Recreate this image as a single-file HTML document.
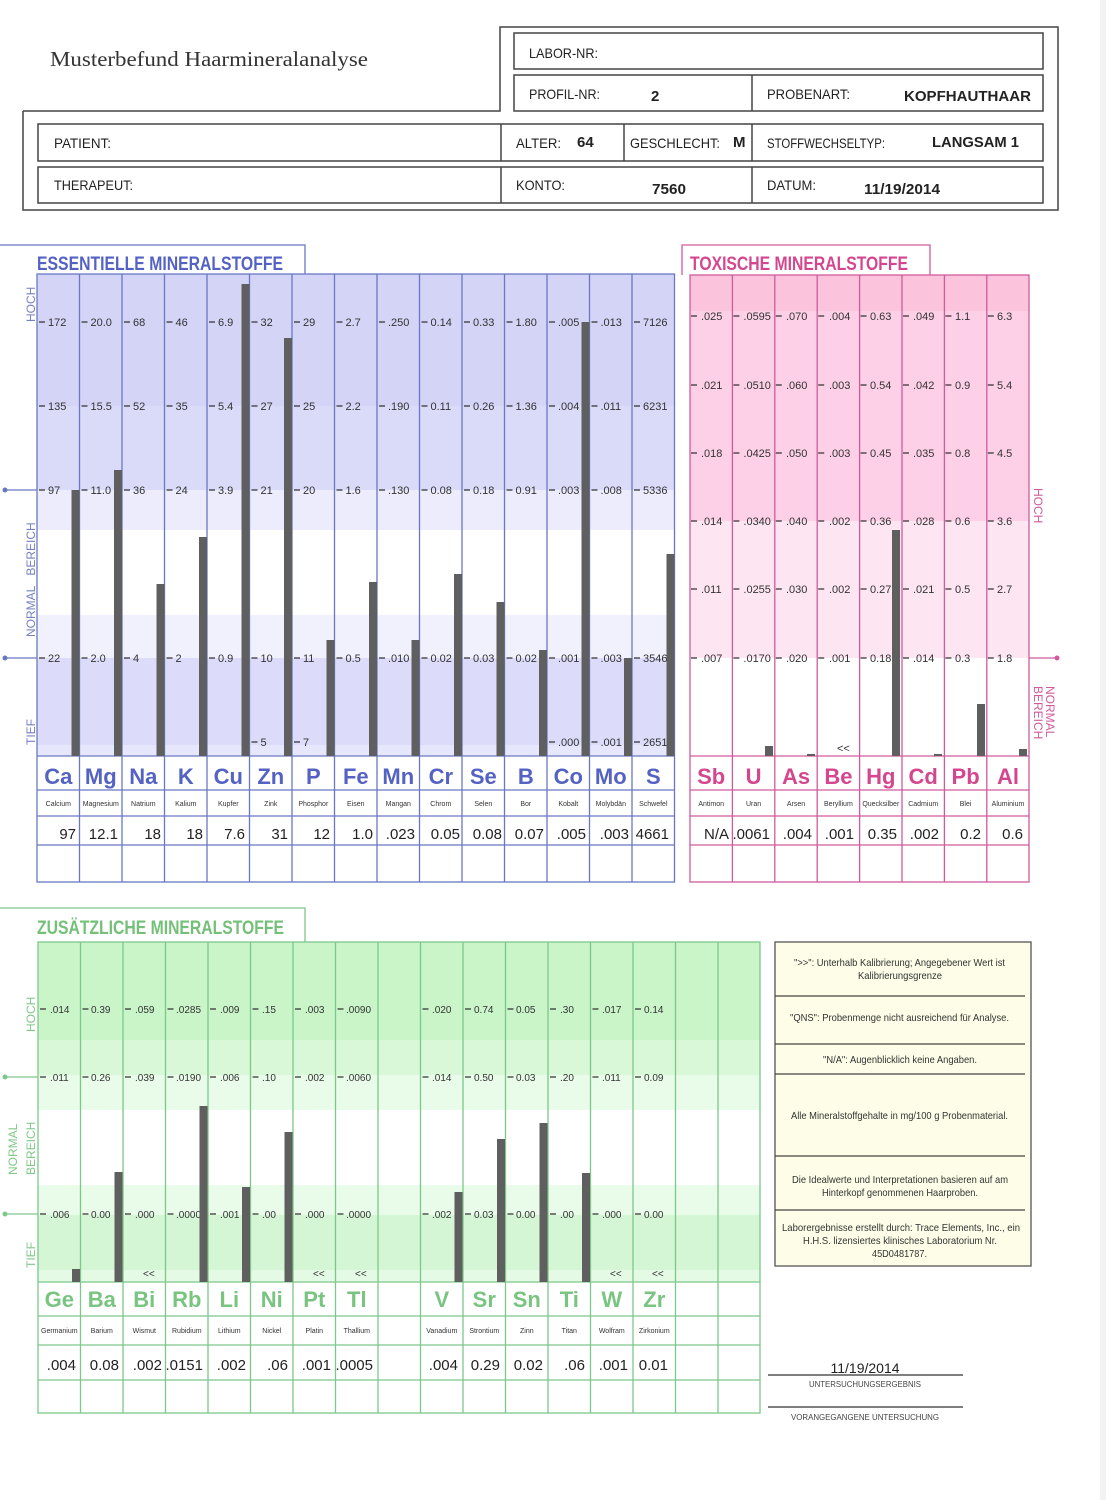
<!DOCTYPE html>
<html><head><meta charset="utf-8"><style>
html,body{margin:0;padding:0;background:#fff;}
svg{display:block;}
.n{font-family:"Liberation Sans",sans-serif;}
.s{font-family:"Liberation Sans",sans-serif;}
</style></head><body>
<svg width="1106" height="1500" viewBox="0 0 1106 1500" xmlns="http://www.w3.org/2000/svg">
<rect width="1106" height="1500" fill="#fff"/>
<rect x="1100" y="0" width="6" height="1500" fill="#f2f2f2"/>

<!-- HEADER -->
<g fill="none" stroke="#444" stroke-width="1.5">
<polyline points="23,111 500,111 500,27 1058,27 1058,210 23,210 23,111"/>
<rect x="514" y="33" width="529" height="36"/>
<rect x="514" y="75" width="529" height="36"/>
<line x1="752" y1="75" x2="752" y2="111"/>
<rect x="38" y="124" width="1005" height="37"/>
<line x1="501" y1="124" x2="501" y2="161"/><line x1="624" y1="124" x2="624" y2="161"/><line x1="752" y1="124" x2="752" y2="161"/>
<rect x="38" y="167" width="1005" height="36"/>
<line x1="501" y1="167" x2="501" y2="203"/><line x1="752" y1="167" x2="752" y2="203"/>
</g>
<text x="50" y="66" font-family="Liberation Serif,serif" font-size="21" fill="#333" textLength="318" lengthAdjust="spacingAndGlyphs">Musterbefund Haarmineralanalyse</text>
<g class="n" font-size="14" fill="#222" lengthAdjust="spacingAndGlyphs">
<text x="529" y="58" textLength="69" lengthAdjust="spacingAndGlyphs">LABOR-NR:</text>
<text x="529" y="99" textLength="71" lengthAdjust="spacingAndGlyphs">PROFIL-NR:</text><text x="651" y="101" font-size="15" font-weight="bold">2</text>
<text x="767" y="99" textLength="83" lengthAdjust="spacingAndGlyphs">PROBENART:</text><text x="904" y="101" font-size="15" font-weight="bold" textLength="127" lengthAdjust="spacingAndGlyphs">KOPFHAUTHAAR</text>
<text x="54" y="148" textLength="57" lengthAdjust="spacingAndGlyphs">PATIENT:</text>
<text x="516" y="148" textLength="45" lengthAdjust="spacingAndGlyphs">ALTER:</text><text x="577" y="147" font-size="15" font-weight="bold">64</text>
<text x="630" y="148" textLength="90" lengthAdjust="spacingAndGlyphs">GESCHLECHT:</text><text x="733" y="147" font-size="15" font-weight="bold">M</text>
<text x="767" y="148" textLength="118" lengthAdjust="spacingAndGlyphs">STOFFWECHSELTYP:</text><text x="932" y="147" font-size="15" font-weight="bold" textLength="87" lengthAdjust="spacingAndGlyphs">LANGSAM 1</text>
<text x="54" y="190" textLength="79" lengthAdjust="spacingAndGlyphs">THERAPEUT:</text>
<text x="516" y="190" textLength="49" lengthAdjust="spacingAndGlyphs">KONTO:</text><text x="652" y="194" font-size="15" font-weight="bold" textLength="34" lengthAdjust="spacingAndGlyphs">7560</text>
<text x="767" y="190" textLength="49" lengthAdjust="spacingAndGlyphs">DATUM:</text><text x="864" y="194" font-size="15" font-weight="bold" textLength="76" lengthAdjust="spacingAndGlyphs">11/19/2014</text>
</g>

<!-- ESSENTIAL -->
<rect x="37" y="274" width="637.5" height="132" fill="#d4d4f7"/>
<rect x="37" y="406" width="637.5" height="84" fill="#dadaf9"/>
<rect x="37" y="490" width="637.5" height="40" fill="#ececfc"/>
<rect x="37" y="530" width="637.5" height="85" fill="#ffffff"/>
<rect x="37" y="615" width="637.5" height="43" fill="#f1f1fd"/>
<rect x="37" y="658" width="637.5" height="87" fill="#dcdcfa"/>
<rect x="37" y="745" width="637.5" height="11" fill="#e6e6fc"/>
<g fill="none" stroke="#6a78c4" stroke-width="1.3">
<polyline points="0,245 305,245 305,274"/>
<rect x="37" y="274" width="637.5" height="608"/>
<line x1="37" y1="756" x2="674.5" y2="756"/><line x1="37" y1="790" x2="674.5" y2="790"/><line x1="37" y1="816" x2="674.5" y2="816"/><line x1="37" y1="845" x2="674.5" y2="845"/>
<line x1="79.5" y1="274" x2="79.5" y2="882"/><line x1="122" y1="274" x2="122" y2="882"/><line x1="164.5" y1="274" x2="164.5" y2="882"/><line x1="207" y1="274" x2="207" y2="882"/><line x1="249.5" y1="274" x2="249.5" y2="882"/><line x1="292" y1="274" x2="292" y2="882"/><line x1="334.5" y1="274" x2="334.5" y2="882"/><line x1="377" y1="274" x2="377" y2="882"/><line x1="419.5" y1="274" x2="419.5" y2="882"/><line x1="462" y1="274" x2="462" y2="882"/><line x1="504.5" y1="274" x2="504.5" y2="882"/><line x1="547" y1="274" x2="547" y2="882"/><line x1="589.5" y1="274" x2="589.5" y2="882"/><line x1="632" y1="274" x2="632" y2="882"/>
<line x1="5" y1="490" x2="37" y2="490"/><line x1="5" y1="658" x2="37" y2="658"/>
</g>
<circle cx="5" cy="490" r="2.5" fill="#6a78c4"/><circle cx="5" cy="658" r="2.5" fill="#6a78c4"/>
<text x="37" y="270" class="n" font-size="19" font-weight="bold" fill="#5462c4" textLength="246" lengthAdjust="spacingAndGlyphs">ESSENTIELLE MINERALSTOFFE</text>
<g class="s" font-size="12" fill="#7480c4">
<text transform="translate(35,322) rotate(-90)">HOCH</text>
<text transform="translate(35,637) rotate(-90)">NORMAL&#160;&#160;&#160;BEREICH</text>
<text transform="translate(35,745) rotate(-90)">TIEF</text>
</g>
<g stroke="#333" stroke-width="1.2">
<path d="M39 322h6M81.5 322h6M124 322h6M166.5 322h6M209 322h6M251.5 322h6M294 322h6M336.5 322h6M379 322h6M421.5 322h6M464 322h6M506.5 322h6M549 322h6M591.5 322h6M634 322h6"/>
<path d="M39 406h6M81.5 406h6M124 406h6M166.5 406h6M209 406h6M251.5 406h6M294 406h6M336.5 406h6M379 406h6M421.5 406h6M464 406h6M506.5 406h6M549 406h6M591.5 406h6M634 406h6"/>
<path d="M39 490h6M81.5 490h6M124 490h6M166.5 490h6M209 490h6M251.5 490h6M294 490h6M336.5 490h6M379 490h6M421.5 490h6M464 490h6M506.5 490h6M549 490h6M591.5 490h6M634 490h6"/>
<path d="M39 658h6M81.5 658h6M124 658h6M166.5 658h6M209 658h6M251.5 658h6M294 658h6M336.5 658h6M379 658h6M421.5 658h6M464 658h6M506.5 658h6M549 658h6M591.5 658h6M634 658h6"/>
<path d="M251.5 742h6M294 742h6M549 742h6M591.5 742h6M634 742h6"/>
</g>
<g class="s" font-size="11" fill="#333">
<text x="48" y="326">172</text><text x="90.5" y="326">20.0</text><text x="133" y="326">68</text><text x="175.5" y="326">46</text><text x="218" y="326">6.9</text><text x="260.5" y="326">32</text><text x="303" y="326">29</text><text x="345.5" y="326">2.7</text><text x="388" y="326">.250</text><text x="430.5" y="326">0.14</text><text x="473" y="326">0.33</text><text x="515.5" y="326">1.80</text><text x="558" y="326">.005</text><text x="600.5" y="326">.013</text><text x="643" y="326">7126</text>
<text x="48" y="410">135</text><text x="90.5" y="410">15.5</text><text x="133" y="410">52</text><text x="175.5" y="410">35</text><text x="218" y="410">5.4</text><text x="260.5" y="410">27</text><text x="303" y="410">25</text><text x="345.5" y="410">2.2</text><text x="388" y="410">.190</text><text x="430.5" y="410">0.11</text><text x="473" y="410">0.26</text><text x="515.5" y="410">1.36</text><text x="558" y="410">.004</text><text x="600.5" y="410">.011</text><text x="643" y="410">6231</text>
<text x="48" y="494">97</text><text x="90.5" y="494">11.0</text><text x="133" y="494">36</text><text x="175.5" y="494">24</text><text x="218" y="494">3.9</text><text x="260.5" y="494">21</text><text x="303" y="494">20</text><text x="345.5" y="494">1.6</text><text x="388" y="494">.130</text><text x="430.5" y="494">0.08</text><text x="473" y="494">0.18</text><text x="515.5" y="494">0.91</text><text x="558" y="494">.003</text><text x="600.5" y="494">.008</text><text x="643" y="494">5336</text>
<text x="48" y="662">22</text><text x="90.5" y="662">2.0</text><text x="133" y="662">4</text><text x="175.5" y="662">2</text><text x="218" y="662">0.9</text><text x="260.5" y="662">10</text><text x="303" y="662">11</text><text x="345.5" y="662">0.5</text><text x="388" y="662">.010</text><text x="430.5" y="662">0.02</text><text x="473" y="662">0.03</text><text x="515.5" y="662">0.02</text><text x="558" y="662">.001</text><text x="600.5" y="662">.003</text><text x="643" y="662">3546</text>
<text x="260.5" y="746">5</text><text x="303" y="746">7</text><text x="558" y="746">.000</text><text x="600.5" y="746">.001</text><text x="643" y="746">2651</text>
</g>
<g fill="#5f5f5f">
<rect x="71.5" y="490" width="8" height="266"/><rect x="114" y="470" width="8" height="286"/><rect x="156.5" y="584" width="8" height="172"/><rect x="199" y="537" width="8" height="219"/><rect x="241.5" y="284" width="8" height="472"/><rect x="284" y="338" width="8" height="418"/><rect x="326.5" y="640" width="8" height="116"/><rect x="369" y="582" width="8" height="174"/><rect x="411.5" y="640" width="8" height="116"/><rect x="454" y="574" width="8" height="182"/><rect x="496.5" y="602" width="8" height="154"/><rect x="539" y="650" width="8" height="106"/><rect x="581.5" y="322" width="8" height="434"/><rect x="624" y="658" width="8" height="98"/><rect x="666.5" y="554" width="8" height="202"/>
</g>
<g class="n" font-size="22" font-weight="bold" fill="#5462c4" text-anchor="middle">
<text x="58.3" y="784">Ca</text><text x="100.8" y="784">Mg</text><text x="143.3" y="784">Na</text><text x="185.8" y="784">K</text><text x="228.3" y="784">Cu</text><text x="270.8" y="784">Zn</text><text x="313.3" y="784">P</text><text x="355.8" y="784">Fe</text><text x="398.3" y="784">Mn</text><text x="440.8" y="784">Cr</text><text x="483.3" y="784">Se</text><text x="525.8" y="784">B</text><text x="568.3" y="784">Co</text><text x="610.8" y="784">Mo</text><text x="653.3" y="784">S</text>
</g>
<g class="s" font-size="7" fill="#333" text-anchor="middle">
<text x="58.3" y="806">Calcium</text><text x="100.8" y="806">Magnesium</text><text x="143.3" y="806">Natrium</text><text x="185.8" y="806">Kalium</text><text x="228.3" y="806">Kupfer</text><text x="270.8" y="806">Zink</text><text x="313.3" y="806">Phosphor</text><text x="355.8" y="806">Eisen</text><text x="398.3" y="806">Mangan</text><text x="440.8" y="806">Chrom</text><text x="483.3" y="806">Selen</text><text x="525.8" y="806">Bor</text><text x="568.3" y="806">Kobalt</text><text x="610.8" y="806">Molybdän</text><text x="653.3" y="806">Schwefel</text>
</g>
<g class="s" font-size="15" fill="#222" text-anchor="end">
<text x="76" y="839">97</text><text x="118" y="839">12.1</text><text x="161" y="839">18</text><text x="203" y="839">18</text><text x="245" y="839">7.6</text><text x="288" y="839">31</text><text x="330" y="839">12</text><text x="373" y="839">1.0</text><text x="415" y="839">.023</text><text x="460" y="839">0.05</text><text x="502" y="839">0.08</text><text x="544" y="839">0.07</text><text x="586" y="839">.005</text><text x="629" y="839">.003</text><text x="669" y="839">4661</text>
</g>

<!-- TOXIC -->
<rect x="690" y="275" width="339" height="36" fill="#fcc4dc"/>
<rect x="690" y="311" width="339" height="210" fill="#fdd0e7"/>
<rect x="690" y="521" width="339" height="137" fill="#fde6f2"/>
<g fill="none" stroke="#d05a9c" stroke-width="1.3">
<polyline points="682,275 682,245 930,245 930,275"/>
<rect x="690" y="275" width="339" height="607"/>
<line x1="690" y1="756" x2="1029" y2="756"/><line x1="690" y1="790" x2="1029" y2="790"/><line x1="690" y1="816" x2="1029" y2="816"/><line x1="690" y1="845" x2="1029" y2="845"/>
<line x1="732.4" y1="275" x2="732.4" y2="882"/><line x1="774.8" y1="275" x2="774.8" y2="882"/><line x1="817.2" y1="275" x2="817.2" y2="882"/><line x1="859.6" y1="275" x2="859.6" y2="882"/><line x1="902" y1="275" x2="902" y2="882"/><line x1="944.4" y1="275" x2="944.4" y2="882"/><line x1="986.8" y1="275" x2="986.8" y2="882"/>
<line x1="1029" y1="658" x2="1057" y2="658"/>
</g>
<circle cx="1057" cy="658" r="2.5" fill="#d05a9c"/>
<text x="690" y="270" class="n" font-size="19" font-weight="bold" fill="#d4468e" textLength="218" lengthAdjust="spacingAndGlyphs">TOXISCHE MINERALSTOFFE</text>
<g class="s" font-size="12" fill="#d05a9c">
<text transform="translate(1034,488) rotate(90)">HOCH</text>
<text transform="translate(1046,686) rotate(90)">NORMAL</text>
<text transform="translate(1034,686) rotate(90)">BEREICH</text>
</g>
<g stroke="#333" stroke-width="1.2">
<path d="M691 316h6M733.4 316h6M775.8 316h6M818.2 316h6M860.6 316h6M903 316h6M945.4 316h6M987.8 316h6"/>
<path d="M691 385h6M733.4 385h6M775.8 385h6M818.2 385h6M860.6 385h6M903 385h6M945.4 385h6M987.8 385h6"/>
<path d="M691 453h6M733.4 453h6M775.8 453h6M818.2 453h6M860.6 453h6M903 453h6M945.4 453h6M987.8 453h6"/>
<path d="M691 521h6M733.4 521h6M775.8 521h6M818.2 521h6M860.6 521h6M903 521h6M945.4 521h6M987.8 521h6"/>
<path d="M691 589h6M733.4 589h6M775.8 589h6M818.2 589h6M860.6 589h6M903 589h6M945.4 589h6M987.8 589h6"/>
<path d="M691 658h6M733.4 658h6M775.8 658h6M818.2 658h6M860.6 658h6M903 658h6M945.4 658h6M987.8 658h6"/>
</g>
<g class="s" font-size="11" fill="#333">
<text x="701" y="320">.025</text><text x="743.4" y="320">.0595</text><text x="786" y="320">.070</text><text x="829" y="320">.004</text><text x="870" y="320">0.63</text><text x="913" y="320">.049</text><text x="955" y="320">1.1</text><text x="997" y="320">6.3</text>
<text x="701" y="389">.021</text><text x="743.4" y="389">.0510</text><text x="786" y="389">.060</text><text x="829" y="389">.003</text><text x="870" y="389">0.54</text><text x="913" y="389">.042</text><text x="955" y="389">0.9</text><text x="997" y="389">5.4</text>
<text x="701" y="457">.018</text><text x="743.4" y="457">.0425</text><text x="786" y="457">.050</text><text x="829" y="457">.003</text><text x="870" y="457">0.45</text><text x="913" y="457">.035</text><text x="955" y="457">0.8</text><text x="997" y="457">4.5</text>
<text x="701" y="525">.014</text><text x="743.4" y="525">.0340</text><text x="786" y="525">.040</text><text x="829" y="525">.002</text><text x="870" y="525">0.36</text><text x="913" y="525">.028</text><text x="955" y="525">0.6</text><text x="997" y="525">3.6</text>
<text x="701" y="593">.011</text><text x="743.4" y="593">.0255</text><text x="786" y="593">.030</text><text x="829" y="593">.002</text><text x="870" y="593">0.27</text><text x="913" y="593">.021</text><text x="955" y="593">0.5</text><text x="997" y="593">2.7</text>
<text x="701" y="662">.007</text><text x="743.4" y="662">.0170</text><text x="786" y="662">.020</text><text x="829" y="662">.001</text><text x="870" y="662">0.18</text><text x="913" y="662">.014</text><text x="955" y="662">0.3</text><text x="997" y="662">1.8</text>
<text x="837" y="752">&lt;&lt;</text>
</g>
<g fill="#5f5f5f">
<rect x="765" y="746" width="8" height="10"/><rect x="807" y="754" width="8" height="2"/><rect x="892" y="530" width="8" height="226"/><rect x="934" y="754" width="8" height="2"/><rect x="977" y="704" width="8" height="52"/><rect x="1019" y="749" width="8" height="7"/>
</g>
<g class="n" font-size="22" font-weight="bold" fill="#d4468e" text-anchor="middle">
<text x="711.2" y="784">Sb</text><text x="753.6" y="784">U</text><text x="796" y="784">As</text><text x="838.4" y="784">Be</text><text x="880.8" y="784">Hg</text><text x="923.2" y="784">Cd</text><text x="965.6" y="784">Pb</text><text x="1008" y="784">Al</text>
</g>
<g class="s" font-size="7" fill="#333" text-anchor="middle">
<text x="711.2" y="806">Antimon</text><text x="753.6" y="806">Uran</text><text x="796" y="806">Arsen</text><text x="838.4" y="806">Beryllium</text><text x="880.8" y="806">Quecksilber</text><text x="923.2" y="806">Cadmium</text><text x="965.6" y="806">Blei</text><text x="1008" y="806">Aluminium</text>
</g>
<g class="s" font-size="15" fill="#222" text-anchor="end">
<text x="729" y="839">N/A</text><text x="770" y="839">.0061</text><text x="812" y="839">.004</text><text x="854" y="839">.001</text><text x="897" y="839">0.35</text><text x="939" y="839">.002</text><text x="981" y="839">0.2</text><text x="1023" y="839">0.6</text>
</g>

<!-- ADDITIONAL -->
<rect x="38" y="942" width="722" height="98" fill="#c9f5c9"/>
<rect x="38" y="1040" width="722" height="35" fill="#d8f8d8"/>
<rect x="38" y="1075" width="722" height="35" fill="#e9fbe9"/>
<rect x="38" y="1110" width="722" height="75" fill="#ffffff"/>
<rect x="38" y="1185" width="722" height="30" fill="#e9fbe9"/>
<rect x="38" y="1215" width="722" height="55" fill="#d4f6d4"/>
<rect x="38" y="1270" width="722" height="12" fill="#e4fae4"/>
<g fill="none" stroke="#7cc88a" stroke-width="1.3">
<polyline points="0,908 305,908 305,942"/>
<rect x="38" y="942" width="722" height="471"/>
<line x1="38" y1="1282" x2="760" y2="1282"/><line x1="38" y1="1316" x2="760" y2="1316"/><line x1="38" y1="1345" x2="760" y2="1345"/><line x1="38" y1="1380" x2="760" y2="1380"/>
<line x1="80.5" y1="942" x2="80.5" y2="1413"/><line x1="123" y1="942" x2="123" y2="1413"/><line x1="165.5" y1="942" x2="165.5" y2="1413"/><line x1="208" y1="942" x2="208" y2="1413"/><line x1="250.5" y1="942" x2="250.5" y2="1413"/><line x1="293" y1="942" x2="293" y2="1413"/><line x1="335.5" y1="942" x2="335.5" y2="1413"/><line x1="378" y1="942" x2="378" y2="1413"/><line x1="420.5" y1="942" x2="420.5" y2="1413"/><line x1="463" y1="942" x2="463" y2="1413"/><line x1="505.5" y1="942" x2="505.5" y2="1413"/><line x1="548" y1="942" x2="548" y2="1413"/><line x1="590.5" y1="942" x2="590.5" y2="1413"/><line x1="633" y1="942" x2="633" y2="1413"/><line x1="675.5" y1="942" x2="675.5" y2="1413"/><line x1="718" y1="942" x2="718" y2="1413"/>
<line x1="5" y1="1077" x2="38" y2="1077"/><line x1="5" y1="1214" x2="38" y2="1214"/>
</g>
<circle cx="5" cy="1077" r="2.5" fill="#7cc88a"/><circle cx="5" cy="1214" r="2.5" fill="#7cc88a"/>
<text x="37" y="934" class="n" font-size="19" font-weight="bold" fill="#74c078" textLength="247" lengthAdjust="spacingAndGlyphs">ZUSÄTZLICHE MINERALSTOFFE</text>
<g class="s" font-size="12" fill="#80c888">
<text transform="translate(35,1032) rotate(-90)">HOCH</text>
<text transform="translate(17,1175) rotate(-90)">NORMAL</text>
<text transform="translate(35,1175) rotate(-90)">BEREICH</text>
<text transform="translate(35,1268) rotate(-90)">TIEF</text>
</g>
<g stroke="#333" stroke-width="1.2">
<path d="M40 1009h6M82.5 1009h6M125 1009h6M167.5 1009h6M210 1009h6M252.5 1009h6M295 1009h6M337.5 1009h6M422.5 1009h6M465 1009h6M507.5 1009h6M550 1009h6M592.5 1009h6M635 1009h6"/>
<path d="M40 1077h6M82.5 1077h6M125 1077h6M167.5 1077h6M210 1077h6M252.5 1077h6M295 1077h6M337.5 1077h6M422.5 1077h6M465 1077h6M507.5 1077h6M550 1077h6M592.5 1077h6M635 1077h6"/>
<path d="M40 1214h6M82.5 1214h6M125 1214h6M167.5 1214h6M210 1214h6M252.5 1214h6M295 1214h6M337.5 1214h6M422.5 1214h6M465 1214h6M507.5 1214h6M550 1214h6M592.5 1214h6M635 1214h6"/>
</g>
<g class="n" font-size="10" fill="#333">
<text x="50" y="1013">.014</text><text x="91" y="1013">0.39</text><text x="135" y="1013">.059</text><text x="176" y="1013">.0285</text><text x="220" y="1013">.009</text><text x="262" y="1013">.15</text><text x="305" y="1013">.003</text><text x="346" y="1013">.0090</text><text x="432" y="1013">.020</text><text x="474" y="1013">0.74</text><text x="516" y="1013">0.05</text><text x="560" y="1013">.30</text><text x="602" y="1013">.017</text><text x="644" y="1013">0.14</text>
<text x="50" y="1081">.011</text><text x="91" y="1081">0.26</text><text x="135" y="1081">.039</text><text x="176" y="1081">.0190</text><text x="220" y="1081">.006</text><text x="262" y="1081">.10</text><text x="305" y="1081">.002</text><text x="346" y="1081">.0060</text><text x="432" y="1081">.014</text><text x="474" y="1081">0.50</text><text x="516" y="1081">0.03</text><text x="560" y="1081">.20</text><text x="602" y="1081">.011</text><text x="644" y="1081">0.09</text>
<text x="50" y="1218">.006</text><text x="91" y="1218">0.00</text><text x="135" y="1218">.000</text><text x="176" y="1218">.0000</text><text x="220" y="1218">.001</text><text x="262" y="1218">.00</text><text x="305" y="1218">.000</text><text x="346" y="1218">.0000</text><text x="432" y="1218">.002</text><text x="474" y="1218">0.03</text><text x="516" y="1218">0.00</text><text x="560" y="1218">.00</text><text x="602" y="1218">.000</text><text x="644" y="1218">0.00</text>
<text x="143" y="1277">&lt;&lt;</text><text x="313" y="1277">&lt;&lt;</text><text x="355" y="1277">&lt;&lt;</text><text x="610" y="1277">&lt;&lt;</text><text x="652" y="1277">&lt;&lt;</text>
</g>
<g fill="#5f5f5f">
<rect x="72" y="1269" width="8" height="13"/><rect x="114.5" y="1172" width="8" height="110"/><rect x="199.5" y="1106" width="8" height="176"/><rect x="242" y="1187" width="8" height="95"/><rect x="284.5" y="1132" width="8" height="150"/><rect x="454.5" y="1192" width="8" height="90"/><rect x="497" y="1139" width="8" height="143"/><rect x="539.5" y="1123" width="8" height="159"/><rect x="582" y="1173" width="8" height="109"/>
</g>
<g class="n" font-size="22" font-weight="bold" fill="#78c480" text-anchor="middle">
<text x="59.3" y="1307">Ge</text><text x="101.8" y="1307">Ba</text><text x="144.3" y="1307">Bi</text><text x="186.8" y="1307">Rb</text><text x="229.3" y="1307">Li</text><text x="271.8" y="1307">Ni</text><text x="314.3" y="1307">Pt</text><text x="356.8" y="1307">Tl</text><text x="441.8" y="1307">V</text><text x="484.3" y="1307">Sr</text><text x="526.8" y="1307">Sn</text><text x="569.3" y="1307">Ti</text><text x="611.8" y="1307">W</text><text x="654.3" y="1307">Zr</text>
</g>
<g class="s" font-size="7" fill="#333" text-anchor="middle">
<text x="59.3" y="1333">Germanium</text><text x="101.8" y="1333">Barium</text><text x="144.3" y="1333">Wismut</text><text x="186.8" y="1333">Rubidium</text><text x="229.3" y="1333">Lithium</text><text x="271.8" y="1333">Nickel</text><text x="314.3" y="1333">Platin</text><text x="356.8" y="1333">Thallium</text><text x="441.8" y="1333">Vanadium</text><text x="484.3" y="1333">Strontium</text><text x="526.8" y="1333">Zinn</text><text x="569.3" y="1333">Titan</text><text x="611.8" y="1333">Wolfram</text><text x="654.3" y="1333">Zirkonium</text>
</g>
<g class="s" font-size="15" fill="#222" text-anchor="end">
<text x="76" y="1370">.004</text><text x="119" y="1370">0.08</text><text x="162" y="1370">.002</text><text x="203" y="1370">.0151</text><text x="246" y="1370">.002</text><text x="288" y="1370">.06</text><text x="331" y="1370">.001</text><text x="373" y="1370">.0005</text><text x="458" y="1370">.004</text><text x="500" y="1370">0.29</text><text x="543" y="1370">0.02</text><text x="585" y="1370">.06</text><text x="628" y="1370">.001</text><text x="668" y="1370">0.01</text>
</g>

<!-- LEGEND -->
<rect x="775" y="942" width="256" height="324" fill="#fdfde8" stroke="#555" stroke-width="1.3"/>
<g stroke="#444" stroke-width="1.2">
<line x1="775" y1="996" x2="1025" y2="996"/><line x1="775" y1="1044" x2="1025" y2="1044"/><line x1="775" y1="1074" x2="1025" y2="1074"/><line x1="775" y1="1156" x2="1025" y2="1156"/><line x1="775" y1="1210" x2="1025" y2="1210"/>
</g>
<g class="n" font-size="10.5" fill="#333">
<text x="794" y="966" textLength="211" lengthAdjust="spacingAndGlyphs">"&gt;&gt;": Unterhalb Kalibrierung; Angegebener Wert ist</text>
<text x="858" y="979" textLength="84" lengthAdjust="spacingAndGlyphs">Kalibrierungsgrenze</text>
<text x="790" y="1021" textLength="219" lengthAdjust="spacingAndGlyphs">"QNS": Probenmenge nicht ausreichend für Analyse.</text>
<text x="823" y="1063" textLength="154" lengthAdjust="spacingAndGlyphs">"N/A": Augenblicklich keine Angaben.</text>
<text x="791" y="1119" textLength="217" lengthAdjust="spacingAndGlyphs">Alle Mineralstoffgehalte in mg/100 g Probenmaterial.</text>
<text x="792" y="1183" textLength="216" lengthAdjust="spacingAndGlyphs">Die Idealwerte und Interpretationen basieren auf am</text>
<text x="822" y="1196" textLength="156" lengthAdjust="spacingAndGlyphs">Hinterkopf genommenen Haarproben.</text>
<text x="782" y="1231" textLength="238" lengthAdjust="spacingAndGlyphs">Laborergebnisse erstellt durch: Trace Elements, Inc., ein</text>
<text x="803" y="1244" textLength="194" lengthAdjust="spacingAndGlyphs">H.H.S. lizensiertes klinisches Laboratorium Nr.</text>
<text x="872" y="1257" textLength="55" lengthAdjust="spacingAndGlyphs">45D0481787.</text>
</g>
<text x="865" y="1373" class="s" font-size="14" fill="#222" text-anchor="middle">11/19/2014</text>
<line x1="768" y1="1375" x2="963" y2="1375" stroke="#333" stroke-width="1.2"/>
<text x="809" y="1387" class="n" font-size="8.5" fill="#444" textLength="112" lengthAdjust="spacingAndGlyphs">UNTERSUCHUNGSERGEBNIS</text>
<line x1="768" y1="1407" x2="963" y2="1407" stroke="#333" stroke-width="1.2"/>
<text x="791" y="1420" class="n" font-size="8.5" fill="#444" textLength="148" lengthAdjust="spacingAndGlyphs">VORANGEGANGENE UNTERSUCHUNG</text>
</svg>
</body></html>
